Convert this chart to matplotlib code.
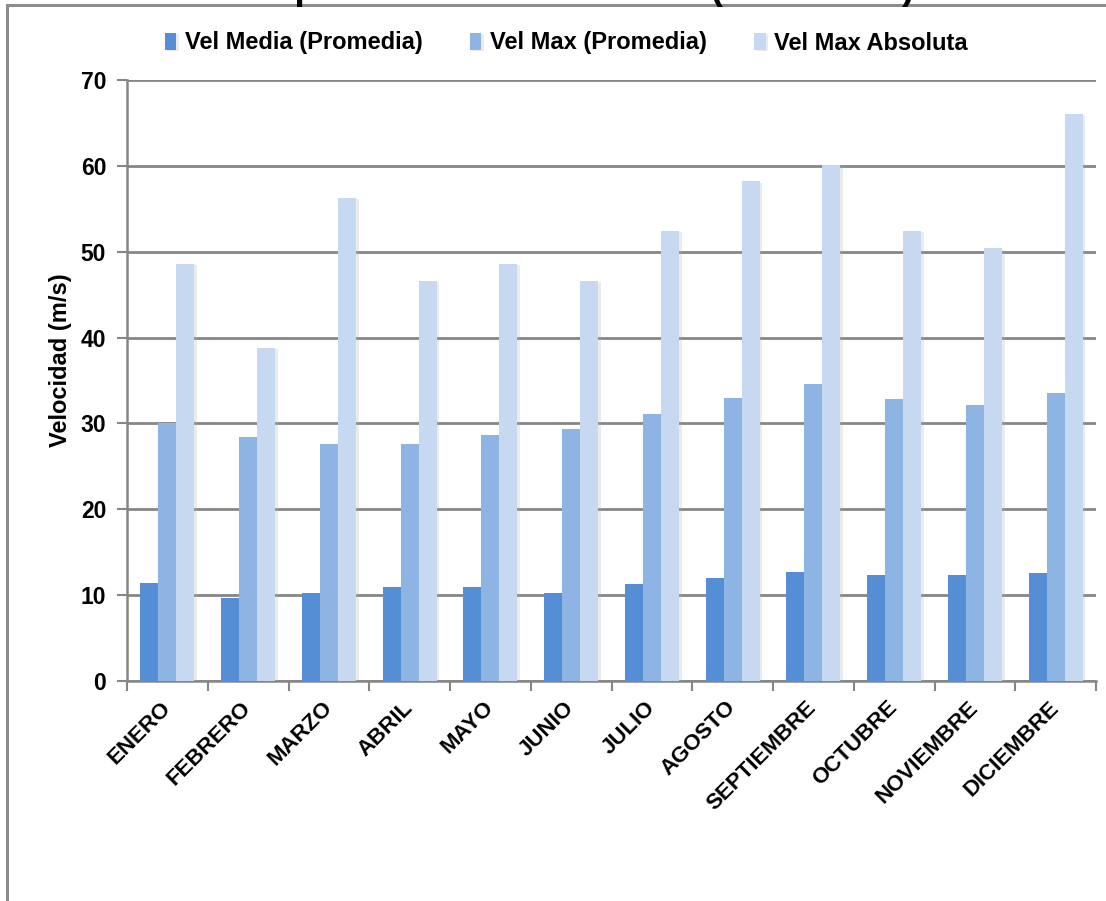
import matplotlib
matplotlib.use("Agg")
import matplotlib.pyplot as plt
import matplotlib.patheffects as pe
from matplotlib.patches import Rectangle
import numpy as np

plt.rcParams['font.family'] = ['Liberation Sans', 'DejaVu Sans']
plt.rcParams['font.weight'] = 'bold'

# Monthly wind speed data (m/s)
meses = ["ENERO", "FEBRERO", "MARZO", "ABRIL", "MAYO", "JUNIO", "JULIO",
         "AGOSTO", "SEPTIEMBRE", "OCTUBRE", "NOVIEMBRE", "DICIEMBRE"]
vel_media = [11.4, 9.7, 10.3, 10.9, 10.9, 10.2, 11.3, 12.0, 12.7, 12.4, 12.4, 12.6]
vel_max_prom = [30.0, 28.4, 27.6, 27.6, 28.6, 29.4, 31.1, 33.0, 34.6, 32.8, 32.1, 33.6]
vel_max_abs = [48.6, 38.8, 56.3, 46.6, 48.6, 46.6, 52.4, 58.2, 60.1, 52.4, 50.4, 66.0]
series_names = ["Vel Media (Promedia)", "Vel Max (Promedia)", "Vel Max Absoluta"]
y_ticks = [0, 10, 20, 30, 40, 50, 60, 70]

colors = ["#558ED5", "#8EB4E3", "#C6D9F1"]
grid_gray = "#868686"

W, H = 1106, 901
fig = plt.figure(figsize=(W / 100, H / 100), dpi=100)
fig.patch.set_facecolor("white")

# chart frame (runs past the right and bottom edges)
fig.patches.append(Rectangle((7 / W, -0.05), 1.2, 1 - 5 / H + 0.05,
                             transform=fig.transFigure, fill=False,
                             edgecolor="#8C8C8C", lw=2.2, zorder=0))

# title, mostly above the visible area
fig.text(563 / W, 1 + 1 / H, "Comportamiento del Viento (2000-2010)",
         ha="center", va="baseline", fontsize=27, fontweight="bold")

ax = fig.add_axes([127 / W, 1 - 681 / H, (1096 - 127) / W, (681 - 80) / H])
x = np.arange(len(meses))
w = 0.223
shadow = [pe.SimplePatchShadow(offset=(2.0, -1.0), shadow_rgbFace="#b0b0b0", alpha=0.25),
          pe.Normal()]
for i, (vals, c, name) in enumerate(zip([vel_media, vel_max_prom, vel_max_abs],
                                         colors, series_names)):
    bars = ax.bar(x + (i - 1) * w, vals, width=w, color=c, label=name,
                  zorder=3 + i * 0.1, linewidth=0)
    for b in bars:
        b.set_path_effects(shadow)

ax.set_xlim(-0.5, len(meses) - 0.5)
ax.set_ylim(0, 70)
ax.set_yticks(y_ticks)
ax.set_yticklabels([str(t) for t in y_ticks], fontsize=16.5, fontweight="bold")
ax.yaxis.grid(True, color=grid_gray, lw=2, zorder=1)
ax.set_axisbelow(True)

# boundary ticks between months, labels at the month centres
ax.set_xticks(np.arange(-0.5, len(meses), 1))
ax.set_xticklabels([])
ax.set_xticks(x, minor=True)
ax.set_xticklabels(meses, minor=True, fontsize=16, fontweight="bold",
                   rotation=45, ha="right", va="center", rotation_mode="anchor")
ax.tick_params(axis="x", which="major", length=7, width=1.5, color=grid_gray, direction="out")
ax.tick_params(axis="x", which="minor", length=0, pad=17)
ax.tick_params(axis="y", length=7, width=1.5, color=grid_gray, pad=8)

for s in ["top", "right"]:
    ax.spines[s].set_visible(False)
for s in ["left", "bottom"]:
    ax.spines[s].set_color(grid_gray)
    ax.spines[s].set_linewidth(1.8)

fig.text(60 / W, 1 - 360 / H, "Velocidad (m/s)", rotation=90, ha="center",
         va="center", fontsize=17, fontweight="bold")

fig.legend(loc="center", bbox_to_anchor=(566 / W, 1 - 43 / H), ncol=3,
           frameon=False, fontsize=17, handlelength=0.5, handleheight=0.75,
           handletextpad=0.35, columnspacing=2.0, borderpad=0)

fig.savefig("out.png", dpi=100)
